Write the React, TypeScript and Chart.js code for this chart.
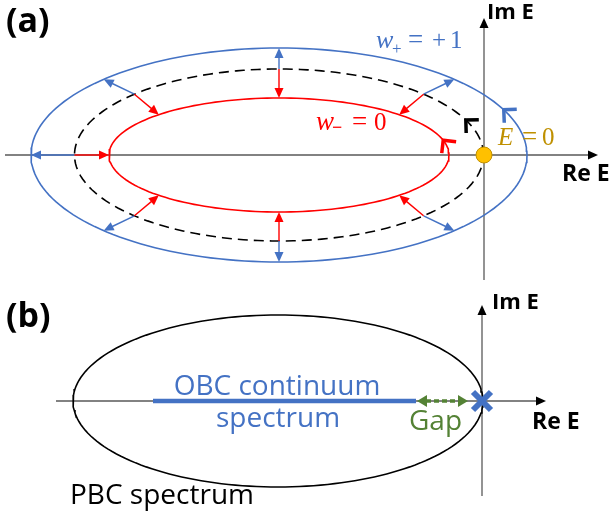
import { useEffect, useRef } from 'react';
import { Chart, registerables } from 'chart.js';

Chart.register(...registerables);

// ---------- Panel (a): loops in the complex energy plane (Re E, Im E units) ----------
const loopNames = ['w+ = +1 loop', 'E = 0 loop', 'w- = 0 loop'];
const loopCenterRe = [-2.05, -2.05, -2.05];
const loopHalfRe = [2.48, 2.045, 1.7];
const loopHalfIm = [1.07, 0.86, 0.57];
const deformAngles = [45, 90, 135, 180, 225, 270, 315]; // where the deformation arrows sit (deg)
const windingAngles = [25, 24, 15]; // where the winding chevrons sit on each loop (deg)

// ---------- Panel (b): PBC spectrum, OBC continuum, gap ----------
const pbcCenterRe = [-2.04];
const pbcHalfRe = [2.05];
const pbcHalfIm = [0.86];
const obcRe = [-3.29, -0.66];
const gapRe = [-0.65, -0.14];
const zeroModeRe = [0];

const BLUE = '#4472C4';
const RED = '#FF0000';
const GOLD = '#BF9000';
const GREEN = '#548235';
const AXIS = '#595959';

type Pt = { x: number; y: number };

const ellipsePoints = (c: number, a: number, b: number) =>
  Array.from({ length: 181 }, (_, k) => {
    const t = (k * 2 * Math.PI) / 180;
    return { x: c + a * Math.cos(t), y: b * Math.sin(t) };
  });

function head(ctx: CanvasRenderingContext2D, tip: Pt, from: Pt, len: number, half: number) {
  const ang = Math.atan2(tip.y - from.y, tip.x - from.x);
  const c = Math.cos(ang), s = Math.sin(ang);
  const bx = tip.x - len * c, by = tip.y - len * s;
  ctx.beginPath();
  ctx.moveTo(tip.x, tip.y);
  ctx.lineTo(bx - half * s, by + half * c);
  ctx.lineTo(bx + half * s, by - half * c);
  ctx.closePath();
  ctx.fill();
}

function arrow(ctx: CanvasRenderingContext2D, from: Pt, to: Pt, color: string, lw: number, len: number, half: number) {
  const ang = Math.atan2(to.y - from.y, to.x - from.x);
  ctx.save();
  ctx.strokeStyle = color;
  ctx.fillStyle = color;
  ctx.lineWidth = lw;
  ctx.beginPath();
  ctx.moveTo(from.x, from.y);
  ctx.lineTo(to.x - (len - 1) * Math.cos(ang), to.y - (len - 1) * Math.sin(ang));
  ctx.stroke();
  head(ctx, to, from, len, half);
  ctx.restore();
}

function axisLine(ctx: CanvasRenderingContext2D, from: Pt, to: Pt) {
  const ang = Math.atan2(to.y - from.y, to.x - from.x);
  ctx.save();
  ctx.strokeStyle = AXIS;
  ctx.lineWidth = 1.3;
  ctx.beginPath();
  ctx.moveTo(from.x, from.y);
  ctx.lineTo(to.x - 8 * Math.cos(ang), to.y - 8 * Math.sin(ang));
  ctx.stroke();
  ctx.fillStyle = '#000';
  head(ctx, to, from, 10, 4.5);
  ctx.restore();
}

function text(ctx: CanvasRenderingContext2D, s: string, x: number, y: number, font: string, color: string, align: CanvasTextAlign = 'left') {
  ctx.save();
  ctx.font = font;
  ctx.fillStyle = color;
  ctx.textAlign = align;
  ctx.textBaseline = 'alphabetic';
  ctx.fillText(s, x, y);
  ctx.restore();
}

type Piece = [string, string, number, number];
function pieces(ctx: CanvasRenderingContext2D, x: number, y: number, color: string, list: Piece[]) {
  list.forEach(([s, f, dx, dy]) => text(ctx, s, x + dx, y + dy, f, color));
}

const SERIF = '"Liberation Serif"';
const SANS = '"Open Sans"';

const panelA = {
  id: 'panelA',
  beforeDatasetsDraw(chart: any) {
    const ctx = chart.ctx as CanvasRenderingContext2D;
    const X = (v: number) => chart.scales.x.getPixelForValue(v);
    const Y = (v: number) => chart.scales.y.getPixelForValue(v);
    axisLine(ctx, { x: X(-4.79), y: Y(0) }, { x: X(1.14), y: Y(0) });
    axisLine(ctx, { x: X(0), y: Y(-1.26) }, { x: X(0), y: Y(1.37) });
  },
  afterDatasetsDraw(chart: any) {
    const ctx = chart.ctx as CanvasRenderingContext2D;
    const X = (v: number) => chart.scales.x.getPixelForValue(v);
    const Y = (v: number) => chart.scales.y.getPixelForValue(v);
    const loopPt = (i: number, deg: number): Pt => {
      const t = (deg * Math.PI) / 180;
      return { x: X(loopCenterRe[i] + loopHalfRe[i] * Math.cos(t)), y: Y(loopHalfIm[i] * Math.sin(t)) };
    };
    // deformation arrows from the E = 0 loop to the w+ and w- loops
    deformAngles.forEach((deg) => {
      const s = loopPt(1, deg);
      arrow(ctx, s, loopPt(0, deg), BLUE, 1.4, 10, 4.5);
      arrow(ctx, s, loopPt(2, deg), RED, 1.4, 10, 4.5);
    });
    // winding-direction chevrons
    const chevColors = [BLUE, '#000', RED];
    windingAngles.forEach((deg, i) => {
      const tip = loopPt(i, deg);
      const a = loopPt(i, deg - 1), b = loopPt(i, deg + 1);
      const ang = Math.atan2(b.y - a.y, b.x - a.x);
      ctx.save();
      ctx.strokeStyle = chevColors[i];
      ctx.lineWidth = 3.5;
      ctx.lineJoin = 'miter';
      ctx.beginPath();
      ctx.moveTo(tip.x - 13 * Math.cos(ang + Math.PI / 4), tip.y - 13 * Math.sin(ang + Math.PI / 4));
      ctx.lineTo(tip.x, tip.y);
      ctx.lineTo(tip.x - 13 * Math.cos(ang - Math.PI / 4), tip.y - 13 * Math.sin(ang - Math.PI / 4));
      ctx.stroke();
      ctx.restore();
    });
    // E = 0 point
    ctx.save();
    ctx.beginPath();
    ctx.arc(X(0), Y(0), 8, 0, Math.PI * 2);
    ctx.fillStyle = '#FFC000';
    ctx.fill();
    ctx.strokeStyle = '#C09000';
    ctx.lineWidth = 1;
    ctx.stroke();
    ctx.restore();
    // labels
    text(ctx, '(a)', X(-4.78), Y(1.23), `bold 34px ${SANS}`, '#000');
    text(ctx, 'Im E', X(0.03), Y(1.36), `bold 22px ${SANS}`, '#000');
    text(ctx, 'Re E', X(0.78), Y(-0.26), `bold 23px ${SANS}`, '#000');
    pieces(ctx, X(-1.08), Y(1.07), BLUE, [
      ['w', `italic 26px ${SERIF}`, 0, 0],
      ['+', `17px ${SERIF}`, 16, 6],
      ['=', `27px ${SERIF}`, 32, 0],
      ['+', `25px ${SERIF}`, 56, 0],
      ['1', `25px ${SERIF}`, 74, 0],
    ]);
    pieces(ctx, X(-1.68), Y(0.25), RED, [
      ['w', `italic 27px ${SERIF}`, 0, 0],
      ['\u2212', `bold 18px ${SERIF}`, 16, 3],
      ['=', `27px ${SERIF}`, 36, 0],
      ['0', `25px ${SERIF}`, 58, 0],
    ]);
    pieces(ctx, X(0.14), Y(0.1), GOLD, [
      ['E', `italic 25px ${SERIF}`, 0, 0],
      ['=', `27px ${SERIF}`, 24, 0],
      ['0', `25px ${SERIF}`, 44, 0],
    ]);
  },
};

const panelB = {
  id: 'panelB',
  beforeDatasetsDraw(chart: any) {
    const ctx = chart.ctx as CanvasRenderingContext2D;
    const X = (v: number) => chart.scales.x.getPixelForValue(v);
    const Y = (v: number) => chart.scales.y.getPixelForValue(v);
    axisLine(ctx, { x: X(-4.26), y: Y(0) }, { x: X(0.64), y: Y(0) });
    axisLine(ctx, { x: X(0), y: Y(-0.95) }, { x: X(0), y: Y(0.96) });
  },
  afterDatasetsDraw(chart: any) {
    const ctx = chart.ctx as CanvasRenderingContext2D;
    const X = (v: number) => chart.scales.x.getPixelForValue(v);
    const Y = (v: number) => chart.scales.y.getPixelForValue(v);
    // gap double arrow
    const g0 = { x: X(gapRe[0]), y: Y(0) }, g1 = { x: X(gapRe[1]), y: Y(0) };
    ctx.save();
    ctx.strokeStyle = GREEN;
    ctx.fillStyle = GREEN;
    ctx.lineWidth = 3.5;
    ctx.setLineDash([5, 3]);
    ctx.beginPath();
    ctx.moveTo(g0.x + 9, g0.y);
    ctx.lineTo(g1.x - 9, g1.y);
    ctx.stroke();
    ctx.setLineDash([]);
    head(ctx, g0, g1, 10, 6);
    head(ctx, g1, g0, 10, 6);
    ctx.restore();
    // zero mode marker (X)
    zeroModeRe.forEach((re) => {
      const cx = X(re), cy = Y(0);
      ctx.save();
      ctx.strokeStyle = BLUE;
      ctx.lineWidth = 6;
      ctx.beginPath();
      ctx.moveTo(cx - 9, cy - 9);
      ctx.lineTo(cx + 9, cy + 9);
      ctx.moveTo(cx + 9, cy - 9);
      ctx.lineTo(cx - 9, cy + 9);
      ctx.stroke();
      ctx.restore();
    });
    text(ctx, '(b)', X(-4.76), Y(0.74), `bold 34px ${SANS}`, '#000');
    text(ctx, 'Im E', X(0.1), Y(0.92), `bold 22px ${SANS}`, '#000');
    text(ctx, 'Re E', X(0.5), Y(-0.28), `bold 23px ${SANS}`, '#000');
    text(ctx, 'OBC continuum', X(-2.05), Y(0.06), `28px ${SANS}`, BLUE, 'center');
    text(ctx, 'spectrum', X(-2.04), Y(-0.26), `28px ${SANS}`, BLUE, 'center');
    text(ctx, 'Gap', X(-0.73), Y(-0.29), `28px ${SANS}`, GREEN);
    text(ctx, 'PBC spectrum', X(-4.12), Y(-1.03), `28px ${SANS}`, '#000');
  },
};

const baseOptions = (xMin: number, xMax: number, yMin: number, yMax: number) => ({
  responsive: false,
  maintainAspectRatio: false,
  animation: false as const,
  events: [] as any[],
  layout: { padding: 0 },
  plugins: { legend: { display: false }, tooltip: { enabled: false }, title: { display: false } },
  scales: {
    x: { type: 'linear' as const, min: xMin, max: xMax, display: false },
    y: { type: 'linear' as const, min: yMin, max: yMax, display: false },
  },
});

export default function App() {
  const refA = useRef<HTMLCanvasElement>(null);
  const refB = useRef<HTMLCanvasElement>(null);

  useEffect(() => {
    const loopStyles = [
      { borderColor: BLUE, borderDash: [] as number[] },
      { borderColor: '#000', borderDash: [10, 6] },
      { borderColor: RED, borderDash: [] as number[] },
    ];
    const chartA = new Chart(refA.current!, {
      type: 'scatter',
      data: {
        datasets: loopNames.map((name, i) => ({
          label: name,
          data: ellipsePoints(loopCenterRe[i], loopHalfRe[i], loopHalfIm[i]),
          showLine: true,
          pointRadius: 0,
          borderWidth: 1.6,
          tension: 0,
          ...loopStyles[i],
        })),
      },
      options: baseOptions(-4.84, 1.27, -1.25, 1.55) as any,
      plugins: [panelA],
    });
    const chartB = new Chart(refB.current!, {
      type: 'scatter',
      data: {
        datasets: [
          {
            label: 'PBC spectrum',
            data: ellipsePoints(pbcCenterRe[0], pbcHalfRe[0], pbcHalfIm[0]),
            showLine: true,
            pointRadius: 0,
            borderWidth: 1.6,
            borderColor: '#000',
            tension: 0,
          },
          {
            label: 'OBC continuum spectrum',
            data: obcRe.map((re) => ({ x: re, y: 0 })),
            showLine: true,
            pointRadius: 0,
            borderWidth: 4.5,
            borderColor: BLUE,
            borderCapStyle: 'butt',
          },
        ],
      },
      options: baseOptions(-4.82, 1.29, -1.13, 1.21) as any,
      plugins: [panelB],
    });
    return () => {
      chartA.destroy();
      chartB.destroy();
    };
  }, []);

  return (
    <div style={{ position: 'absolute', left: 0, top: 0, width: 611, height: 514, background: '#fff' }}>
      <canvas ref={refA} width={611} height={280} style={{ position: 'absolute', left: 0, top: 0, width: 611, height: 280 }} />
      <canvas ref={refB} width={611} height={234} style={{ position: 'absolute', left: 0, top: 280, width: 611, height: 234 }} />
    </div>
  );
}
